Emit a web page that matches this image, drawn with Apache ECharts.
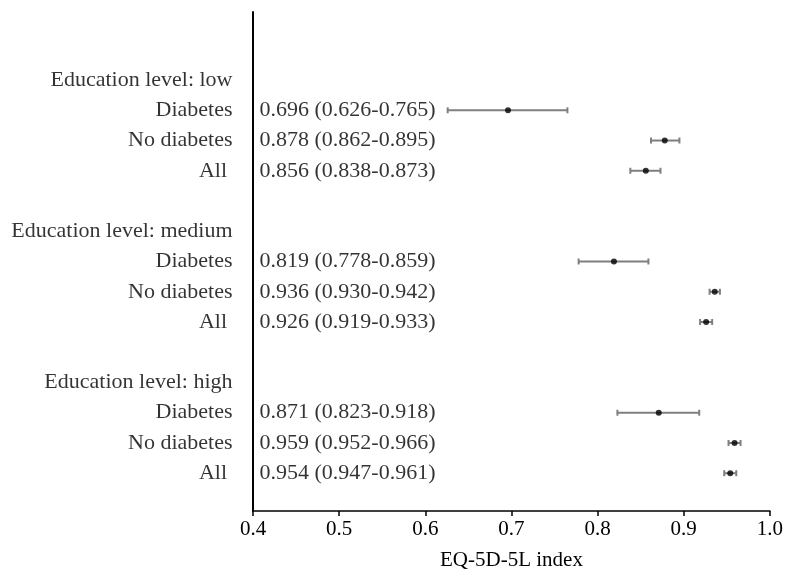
<!DOCTYPE html>
<html>
<head>
<meta charset="utf-8">
<script src="https://cdn.jsdelivr.net/npm/echarts@6/dist/echarts.min.js"></script>
<style>html,body{margin:0;padding:0;background:#fff}#c{width:786px;height:576px}</style>
</head>
<body>
<div id="c"></div>
<script>
// Row labels, top to bottom (blank rows are spacers)
const rowLabels = ['', '', 'Education level: low', 'Diabetes', 'No diabetes', 'All ', '',
  'Education level: medium', 'Diabetes', 'No diabetes', 'All ', '',
  'Education level: high', 'Diabetes', 'No diabetes', 'All ', ''];
// Estimates per row (null = no estimate)
const estimate = [null, null, null, 0.696, 0.878, 0.856, null, null, 0.819, 0.936, 0.926, null, null, 0.871, 0.959, 0.954, null];
const lower    = [null, null, null, 0.626, 0.862, 0.838, null, null, 0.778, 0.930, 0.919, null, null, 0.823, 0.952, 0.947, null];
const upper    = [null, null, null, 0.765, 0.895, 0.873, null, null, 0.859, 0.942, 0.933, null, null, 0.918, 0.966, 0.961, null];
const xTicks = [0.4, 0.5, 0.6, 0.7, 0.8, 0.9, 1.0];
const xName = 'EQ-5D-5L index';

const FONT = 'Liberation Serif, Times New Roman, serif';
const fmt = v => v.toFixed(3);

const labelData = rowLabels.map((n, i) => [0.4, i, n]);
const valueText = [];
const pointData = [];
const ciData = [];
estimate.forEach((e, i) => {
  if (e !== null) {
    valueText.push([0.4, i, fmt(e) + ' (' + fmt(lower[i]) + '-' + fmt(upper[i]) + ')']);
    pointData.push([e, i]);
    ciData.push([lower[i], upper[i], i]);
  }
});

const chart = echarts.init(document.getElementById('c'));
chart.setOption({
  animation: false,
  backgroundColor: '#fff',
  grid: { left: 253, right: 15, top: 12, bottom: 64 },
  xAxis: {
    type: 'value', min: 0.4, max: 1.0, interval: 0.1,
    axisLine: { show: true, onZero: false, lineStyle: { color: '#000', width: 1.5 } },
    axisTick: { show: true, length: 5, lineStyle: { color: '#000', width: 1.5 } },
    splitLine: { show: false },
    axisLabel: { color: '#000', fontFamily: FONT, fontSize: 21, margin: 8,
      formatter: v => xTicks.includes(Math.round(v * 10) / 10) ? v.toFixed(1) : '' },
    name: xName, nameLocation: 'middle', nameGap: 39,
    nameTextStyle: { color: '#000', fontFamily: FONT, fontSize: 21 }
  },
  yAxis: {
    type: 'value', inverse: true, min: -0.25, max: 16.25,
    axisLine: { show: true, onZero: false, lineStyle: { color: '#000', width: 2 } },
    axisTick: { show: false }, axisLabel: { show: false }, splitLine: { show: false }
  },
  series: [
    {
      type: 'custom',
      silent: true,
      data: ciData,
      renderItem: function (params, api) {
        const y = api.value(2);
        const p1 = api.coord([api.value(0), y]);
        const p2 = api.coord([api.value(1), y]);
        const h = 3;
        const style = { stroke: '#7f7f7f', lineWidth: 2 };
        return {
          type: 'group',
          children: [
            { type: 'line', shape: { x1: p1[0], y1: p1[1], x2: p2[0], y2: p2[1] }, style: style },
            { type: 'line', shape: { x1: p1[0], y1: p1[1] - h, x2: p1[0], y2: p1[1] + h }, style: style },
            { type: 'line', shape: { x1: p2[0], y1: p2[1] - h, x2: p2[0], y2: p2[1] + h }, style: style }
          ]
        };
      },
      z: 2
    },
    {
      type: 'scatter', data: pointData, symbol: 'circle', symbolSize: 6,
      itemStyle: { color: '#000' }, silent: true, z: 3
    },
    {
      type: 'scatter', data: labelData, symbolSize: 1,
      itemStyle: { color: 'rgba(0,0,0,0)' }, silent: true,
      label: { show: true, position: 'left', distance: 20, color: '#000',
        fontFamily: FONT, fontSize: 22, formatter: p => p.data[2] }
    },
    {
      type: 'scatter', data: valueText, symbolSize: 1,
      itemStyle: { color: 'rgba(0,0,0,0)' }, silent: true,
      label: { show: true, position: 'right', distance: 6, color: '#000',
        fontFamily: FONT, fontSize: 22, formatter: p => p.data[2] }
    }
  ]
});
</script>
</body>
</html>
